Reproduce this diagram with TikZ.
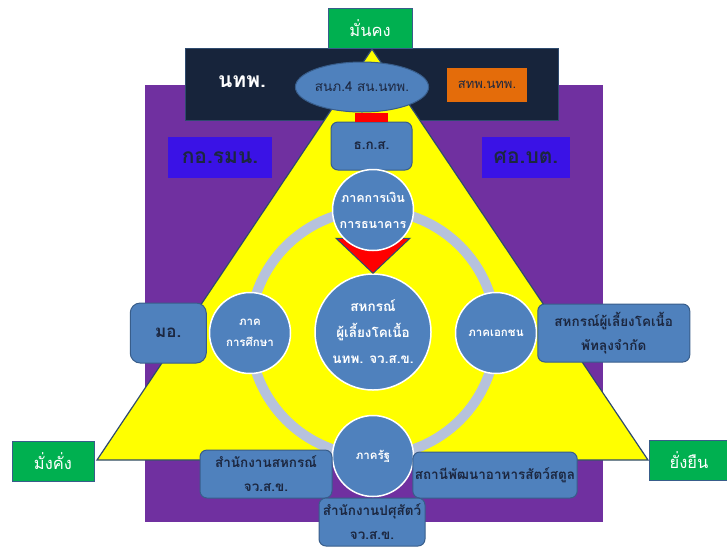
\documentclass[tikz,border=0pt]{standalone}
\usepackage{fontspec}
\newfontfamily\thaifont[Script=Thai]{Loma}
\usetikzlibrary{shapes,shapes.geometric,positioning,backgrounds}

\definecolor{plum}{HTML}{7030A0}
\definecolor{navybar}{HTML}{17243B}
\definecolor{navyline}{HTML}{2E4A6E}
\definecolor{pyramid}{HTML}{FFFF00}
\definecolor{goalgreen}{HTML}{00B050}
\definecolor{orangebox}{HTML}{E46C0A}
\definecolor{violetbox}{HTML}{3A12E6}
\definecolor{boxblue}{HTML}{4F81BD}
\definecolor{boxedge}{HTML}{385D8A}
\definecolor{boxtext}{HTML}{1C2740}
\definecolor{ringblue}{HTML}{B6C2DC}

\begin{document}
\begin{tikzpicture}[x=1pt,y=-1pt]
  \tikzstyle{box}=[rectangle, rounded corners=7pt, draw=boxedge, fill=boxblue, line width=1pt, align=center, text=boxtext, inner sep=2pt, font=\thaifont\bfseries\fontsize{13.5}{24}\selectfont]
  \tikzstyle{sector}=[circle, draw=white, line width=1.5pt, fill=boxblue, text=white, align=center, minimum size=81pt, inner sep=0pt, font=\thaifont\bfseries\fontsize{11.5}{21}\selectfont]
  \tikzstyle{goal}=[rectangle, draw=boxedge, line width=1pt, fill=goalgreen, text=white, minimum height=40pt, font=\thaifont\fontsize{16.5}{18}\selectfont]
  \tikzstyle{office}=[rectangle, fill=violetbox, text=boxtext, minimum height=41pt, font=\thaifont\bfseries\fontsize{21}{24}\selectfont]

  \useasboundingbox (0,0) rectangle (727,547);

  % = background layers =
  \fill[plum] (145,85) rectangle (603,522);
  \draw[navyline, fill=navybar] (185,48) rectangle (558,120);
  \draw[fill=pyramid, draw=navyline, line width=1.2pt] (372,49) -- (97,460) -- (648,460) -- cycle;

  % = top bar =
  \node[goal, minimum width=84pt] (stable) at (370,28) {มั่นคง};
  \node[text=white, font=\thaifont\bfseries\fontsize{21}{24}\selectfont] (ntp) at (242,82) {นทพ.};
  \node[ellipse, draw=boxedge, fill=boxblue, line width=1pt, minimum width=133pt, minimum height=50pt, inner sep=0pt, text=boxtext, font=\thaifont\fontsize{13.5}{15}\selectfont] (planning) at (362,87) {สนภ.4 สน.นทพ.};
  \node[rectangle, fill=orangebox, minimum width=80pt, minimum height=34pt, text=boxtext, font=\thaifont\fontsize{13}{15}\selectfont] (sthp) at (487,85) {สทพ.นทพ.};
  \node[box, minimum width=81pt, minimum height=48pt, font=\thaifont\bfseries\fontsize{13.5}{15}\selectfont] (baac) at (371.5,146) {ธ.ก.ส.};
  \draw[red, line width=33pt] (baac.north) -- (baac.north |- planning.south);

  % side offices
  \node[office, minimum width=104pt] (isoc) at (220,157.5) {กอ.รมน.};
  \node[office, minimum width=88pt] (sbpac) at (526,157.5) {ศอ.บต.};

  % = circle of sectors =
  \node[circle, draw=ringblue, line width=10pt, outer sep=0pt, minimum size=246pt] (ring) at (373,333) {};
  \node[circle, draw=white, line width=1.5pt, fill=boxblue, text=white, align=center, minimum size=116pt, inner sep=0pt, font=\thaifont\bfseries\fontsize{13.5}{26}\selectfont] (coop) at (373,332) {สหกรณ์\\ผู้เลี้ยงโคเนื้อ\\นทพ. จว.ส.ข.};
  \draw[fill=red, draw=navyline, line width=1pt] (coop.north) -- ++(-37,-35) -- ++(74,0) -- cycle;
  \node[sector, font=\thaifont\bfseries\fontsize{12.5}{26}\selectfont] (finance) at (ring.north) {ภาคการเงิน\\การธนาคาร};
  \node[sector] (edu) at (ring.west) {ภาค\\การศึกษา};
  \node[sector] (private) at (ring.east) {ภาคเอกชน};
  \node[sector] (gov) at (ring.south) {ภาครัฐ};

  % = partners =
  \node[box, rounded corners=10pt, minimum width=76pt, minimum height=60pt, font=\thaifont\bfseries\fontsize{17}{20}\selectfont] (psu) [left=2pt of edu] {มอ.};
  \node[box, minimum width=152pt, minimum height=58pt] (farmcoop) [right=0pt of private] {สหกรณ์ผู้เลี้ยงโคเนื้อ\\พัทลุงจำกัด};
  \node[box, minimum width=132pt, minimum height=48pt] (coopoffice) at (266,474) {สำนักงานสหกรณ์\\จว.ส.ข.};
  \node[box, minimum width=106pt, minimum height=48pt] (livestock) at (372,522) {สำนักงานปศุสัตว์\\จว.ส.ข.};
  \node[box, minimum width=164pt, minimum height=46pt] (feed) at (495,475) {สถานีพัฒนาอาหารสัตว์สตูล};

  % = goals at the base =
  \node[goal, minimum width=82pt] (wealthy) at (53,461.5) {มั่งคั่ง};
  \node[goal, minimum width=80pt] (lasting) at (689,460) {ยั่งยืน};
\end{tikzpicture}
\end{document}
